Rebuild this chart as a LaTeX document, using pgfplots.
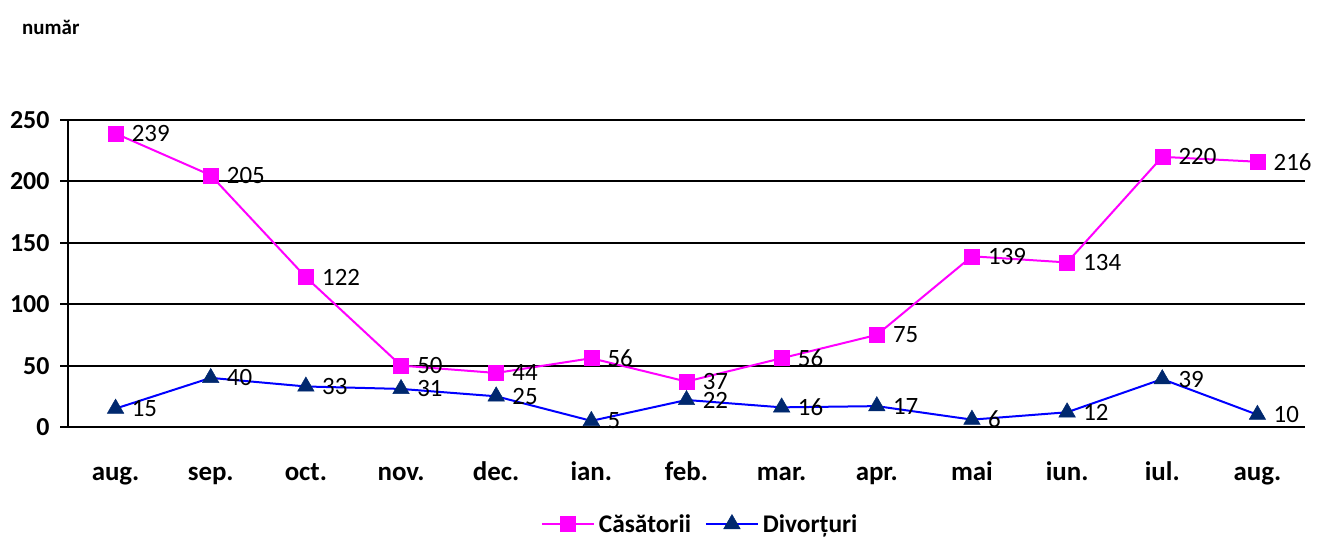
\documentclass[border=0pt]{standalone}
\usepackage{fontspec}
\setmainfont{Carlito}
\usepackage{pgfplots}
\pgfplotsset{compat=1.18}
\definecolor{mag}{RGB}{255,0,255}
\definecolor{linb}{RGB}{0,0,255}
\definecolor{navy}{RGB}{0,40,110}
\begin{document}
\begin{tikzpicture}
\path[use as bounding box] (-68bp,-112bp) rectangle (1249bp,427bp);
\begin{axis}[
  at={(0,0)}, anchor=south west, scale only axis,
  width=1237bp, height=307bp,
  xmin=-0.5, xmax=12.5, ymin=0, ymax=250,
  clip=false,
  axis lines*=left,
  axis line style={black, line width=2bp},
  ymajorgrids, major grid style={black, line width=2bp},
  ytick={0,50,100,150,200,250},
  yticklabels={0,50,100,150,200,250},
  tick align=outside,
  major tick length=8bp,
  every tick/.style={black, line width=2bp},
  xtick={0,...,12},
  xticklabels={aug.,sep.,oct.,nov.,dec.,ian.,feb.,mar.,apr.,mai,iun.,iul.,aug.},
  x tick style={draw=none},
  minor xtick={-0.5,0.5,...,12.5},
  minor tick length=8bp,
  minor x tick style={black, line width=2bp},
  /pgf/number format/assume math mode=true,
  yticklabel style={font=\bfseries\fontsize{26}{26}\selectfont, anchor=east, xshift=-7bp},
  xticklabel style={font=\bfseries\fontsize{27}{27}\selectfont, anchor=base, yshift=-45bp},
  nodes near coords,
  every node near coord/.append style={font=\fontsize{25}{25}\selectfont, anchor=west, xshift=16bp, inner sep=0pt, black},
  legend style={at={(0.511,-0.316)}, anchor=center, draw=none, legend columns=-1,
    font=\bfseries\fontsize{25.5}{25.5}\selectfont,
    /tikz/every odd column/.append style={column sep=2bp},
    /tikz/every even column/.append style={column sep=12bp}},
  legend image code/.code={\draw[mark repeat=2,mark phase=2,#1] plot coordinates {(0bp,0bp) (26bp,0bp) (52bp,0bp)};},
]
\addplot[color=mag, line width=2bp, mark=square*, mark size=7.5bp, mark options={fill=mag, draw=mag, line width=0.5bp}]
coordinates {(0,239) (1,205) (2,122) (3,50) (4,44) (5,56) (6,37) (7,56) (8,75) (9,139) (10,134) (11,220) (12,216)};
\addlegendentry{Căsătorii}
\addplot[color=linb, line width=2bp, mark=triangle*, mark size=9.5bp, mark options={fill=navy, draw=navy, line width=0.5bp}]
coordinates {(0,15) (1,40) (2,33) (3,31) (4,25) (5,5) (6,22) (7,16) (8,17) (9,6) (10,12) (11,39) (12,10)};
\addlegendentry{Divorțuri}
\end{axis}
\node[anchor=west, inner sep=0pt, font=\bfseries\fontsize{21}{21}\selectfont] at (-46bp,400bp) {număr};
\end{tikzpicture}
\end{document}
